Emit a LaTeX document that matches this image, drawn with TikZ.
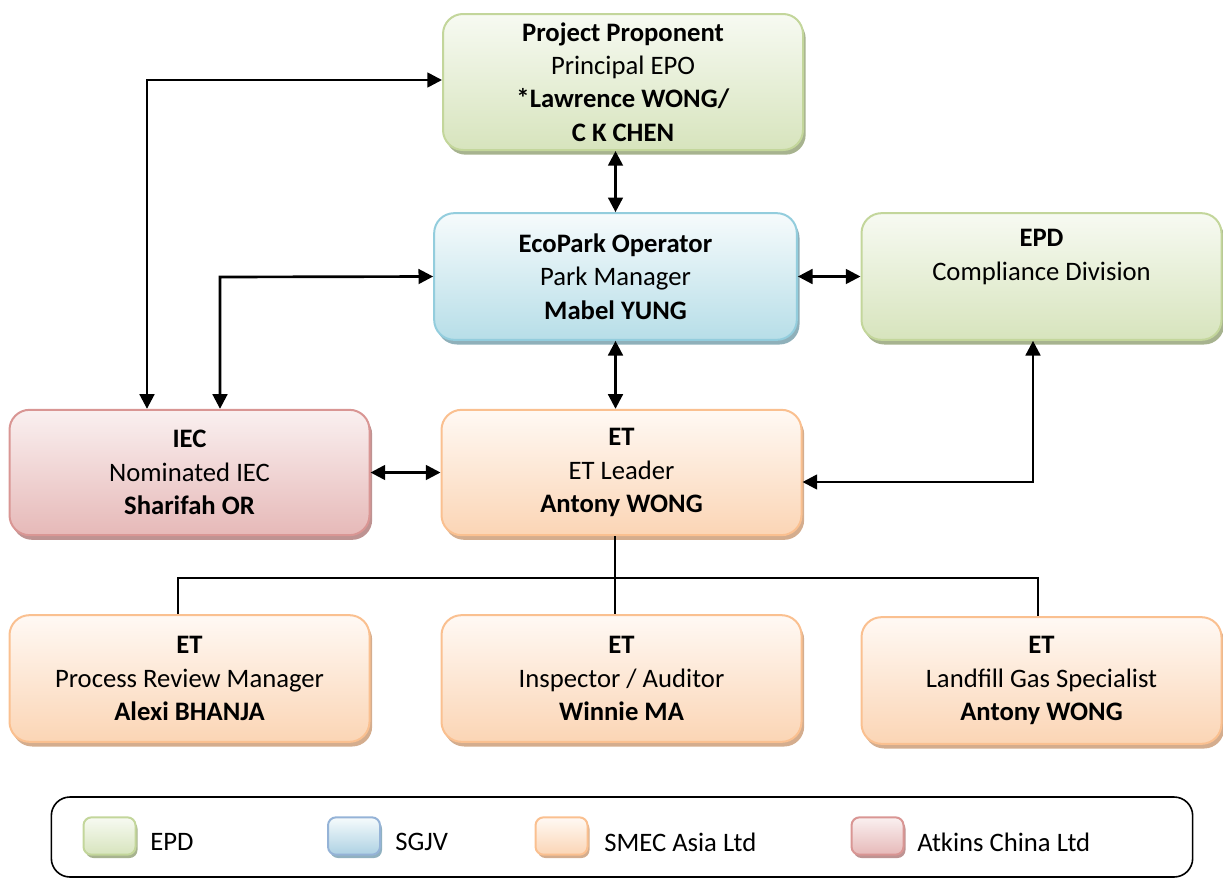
\documentclass[tikz,border=0pt]{standalone}
\usepackage{fontspec}
\setmainfont{Carlito}
\usetikzlibrary{arrows.meta,shadows}
\definecolor{gB}{HTML}{C3D69B}\definecolor{gT}{HTML}{F7FAF2}\definecolor{gD}{HTML}{D7E4BD}\definecolor{gS}{HTML}{A7B38F}
\definecolor{bB}{HTML}{93CDDD}\definecolor{bT}{HTML}{F6FBFC}\definecolor{bD}{HTML}{B7DEE8}\definecolor{bS}{HTML}{8FB0BA}
\definecolor{oB}{HTML}{FAC090}\definecolor{oT}{HTML}{FFF9F4}\definecolor{oD}{HTML}{FBD5B5}\definecolor{oS}{HTML}{D4AD8E}
\definecolor{rB}{HTML}{D99694}\definecolor{rT}{HTML}{FAF0F0}\definecolor{rD}{HTML}{E6B9B8}\definecolor{rS}{HTML}{BE9392}
\definecolor{lgB}{HTML}{95B3D7}
\tikzset{
  orgbox/.style={rounded corners=15pt, line width=1.5pt, align=center,
    minimum width=270pt, minimum height=95pt, inner sep=2pt,
    font=\fontsize{20pt}{25pt}\selectfont},
  greenbox/.style={orgbox, draw=gB, top color=gT, bottom color=gD,
    drop shadow={shadow xshift=2pt, shadow yshift=-3.5pt, fill=gS, opacity=1}},
  bluebox/.style={orgbox, draw=bB, top color=bT, bottom color=bD,
    drop shadow={shadow xshift=2pt, shadow yshift=-3.5pt, fill=bS, opacity=1}},
  orangebox/.style={orgbox, draw=oB, top color=oT, bottom color=oD,
    drop shadow={shadow xshift=2pt, shadow yshift=-3.5pt, fill=oS, opacity=1}},
  redbox/.style={orgbox, draw=rB, top color=rT, bottom color=rD,
    drop shadow={shadow xshift=2pt, shadow yshift=-3.5pt, fill=rS, opacity=1}},
  swatch/.style={minimum width=39pt, minimum height=28pt, rounded corners=6pt, line width=1.5pt, inner sep=0pt},
  legtext/.style={anchor=west, inner sep=0pt, font=\fontsize{20pt}{25pt}\selectfont},
  conn/.style={line width=2pt, draw=black},
  biarrow/.style={conn, {Triangle[length=11pt,width=11pt]}-{Triangle[length=11pt,width=11pt]}}
}
\begin{document}
\begin{tikzpicture}[x=0.75pt,y=-0.75pt]
\useasboundingbox (0,0) rectangle (1223,878);
% boxes
\node[greenbox, minimum height=102pt] (proj) at (623,82)
  {\textbf{Project Proponent}\\Principal EPO\\\textbf{*Lawrence WONG/}\\\textbf{C K CHEN}};
\node[bluebox, minimum width=272pt] (eco) at (615.5,276.5)
  {\textbf{EcoPark Operator}\\Park Manager\\\textbf{Mabel YUNG}};
\node[greenbox] (epd) at (1041.5,276.5)
  {\textbf{EPD}\\Compliance Division\\\strut};
\node[redbox, minimum height=94pt] (iec) at (189.5,472.5)
  {\textbf{IEC}\\Nominated IEC\\\textbf{Sharifah OR}};
\node[orangebox, minimum height=94pt] (et) at (621.5,472.5)
  {\textbf{ET}\\ET Leader\\\textbf{Antony WONG}};
\node[orangebox] (proc) at (189.5,678.5)
  {\textbf{ET}\\Process Review Manager\\\textbf{Alexi BHANJA}};
\node[orangebox] (insp) at (621.5,678.5)
  {\textbf{ET}\\Inspector / Auditor\\\textbf{Winnie MA}};
\node[orangebox] (land) at (1041.5,680.5)
  {\textbf{ET}\\Landfill Gas Specialist\\\textbf{Antony WONG}};
% connectors
\coordinate (c1) at (147,80);
\coordinate (c2) at (220,277);
\coordinate (c3) at (1033,482);
\coordinate (tm) at (615,578);
\coordinate (tl) at (178,578);
\coordinate (tr) at (1038,578);
\draw[biarrow] (eco.north) -- (eco.north |- proj.south);
\draw[biarrow] (iec.north -| c1) -- (c1) -- (proj.west |- c1);
\draw[biarrow] (iec.north -| c2) -- (c2) -- (eco.west);
\draw[biarrow] (eco.east) -- (epd.west);
\draw[biarrow] (eco.south) -- (eco.south |- et.north);
\draw[biarrow] (iec.east) -- (et.west);
\draw[biarrow] (et.east |- c3) -- (c3) -- (c3 |- epd.south);
\draw[conn] (et.south -| tm) -- (tm);
\draw[conn] (proc.north -| tl) -- (tl) -- (tr) -- (land.north -| tr);
\draw[conn] (tm) -- (insp.north -| tm);
% legend
\node[draw=black, line width=1.2pt, rounded corners=14pt, minimum width=856pt, minimum height=60pt, inner sep=0pt] (legend) at (622,837) {};
\node[swatch, draw=gB, top color=gT, bottom color=gD, drop shadow={shadow xshift=1.5pt, shadow yshift=-2.5pt, fill=gS, opacity=1}] (s1) at (109.5,836) {};
\node[swatch, draw=lgB, top color=bT, bottom color=bD!70!lgB, drop shadow={shadow xshift=1.5pt, shadow yshift=-2.5pt, fill=bS!80!lgB, opacity=1}] (s2) at (354,836) {};
\node[swatch, draw=oB, top color=oT, bottom color=oD, drop shadow={shadow xshift=1.5pt, shadow yshift=-2.5pt, fill=oS, opacity=1}] (s3) at (561.5,836) {};
\node[swatch, draw=rB, top color=rT, bottom color=rD, drop shadow={shadow xshift=1.5pt, shadow yshift=-2.5pt, fill=rS, opacity=1}] (s4) at (877.5,836) {};
\node[legtext] (l1) at (150,842) {EPD};
\node[legtext] (l2) at (395,842) {SGJV};
\node[legtext] (l3) at (604,842) {SMEC Asia Ltd};
\node[legtext] (l4) at (917,842) {Atkins China Ltd};
\end{tikzpicture}
\end{document}
